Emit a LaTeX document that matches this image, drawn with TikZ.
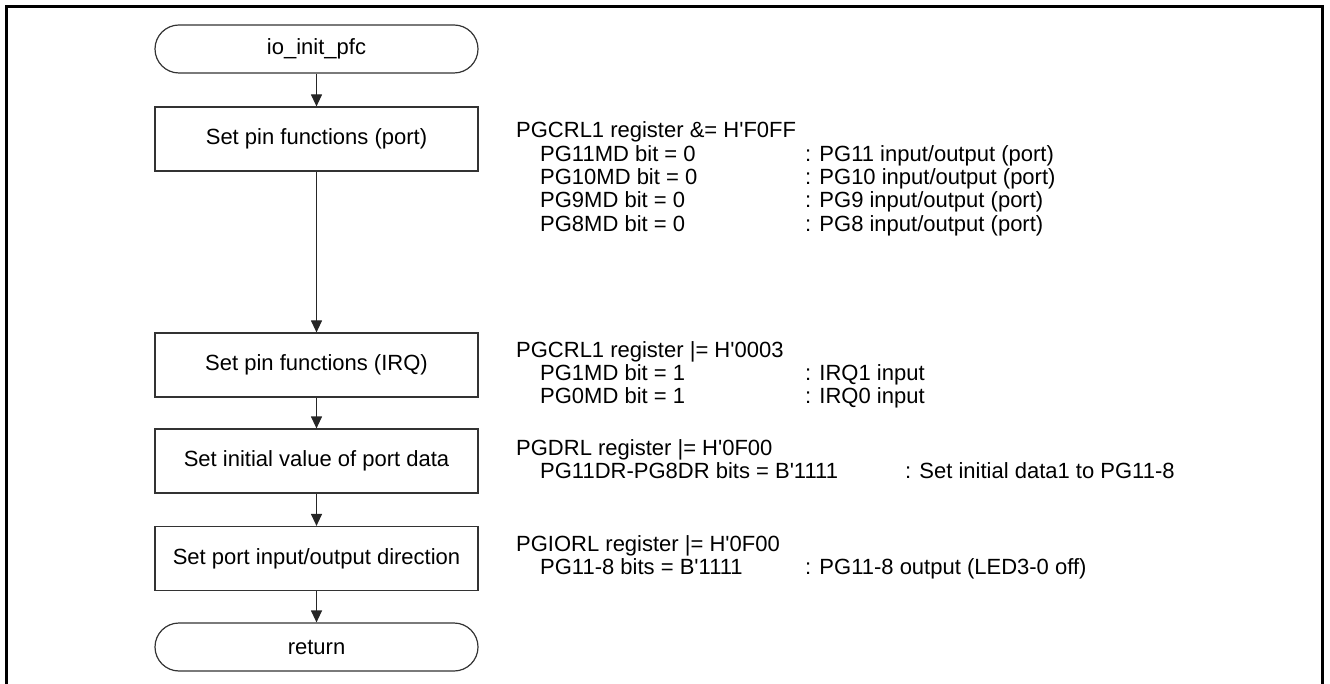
\documentclass[tikz,border=0pt]{standalone}
\usepackage{fontspec}
\setmainfont{Liberation Sans}
\usetikzlibrary{arrows.meta}
\begin{document}
\begin{tikzpicture}[x=1pt,y=-1pt,
  font=\fontsize{22}{24}\selectfont,
  flow/.style={draw=black!80, line width=1.2pt, minimum width=323pt, minimum height=64pt, inner sep=0pt, align=center},
  term/.style={flow, minimum height=48pt, rounded corners=24pt},
  arr/.style={draw=black!85, line width=1.2pt, -{Triangle[width=11pt,length=12pt]}},
  note/.style={anchor=base west, inner sep=0pt},
  frame/.style={line width=3.5pt, line join=miter}]
\useasboundingbox (0,0) rectangle (1330,684);
\coordinate (fa) at (6.5,690);
\coordinate (fb) at (6.5,6.5);
\coordinate (fc) at (1322.5,6.5);
\coordinate (fd) at (1322.5,690);
\draw[frame] (fa) -- (fb) -- (fc) -- (fd);

\node[term] (start) at (316.5,49) {io\_init\_pfc};
\node[flow] (b1) at (316.5,139) {Set pin functions (port)};
\node[flow] (b2) at (316.5,365) {Set pin functions (IRQ)};
\node[flow] (b3) at (316.5,461) {Set initial value of port data};
\node[flow] (b4) at (316.5,558.5) {Set port input/output direction};
\node[term] (ret) at (316.5,647) {return};

\draw[arr] (start) -- (b1);
\draw[arr] (b1) -- (b2);
\draw[arr] (b2) -- (b3);
\draw[arr] (b3) -- (b4);
\draw[arr] (b4) -- (ret);

% group 1
\node[note] (g1a) at (516,138) {PGCRL1 register \&= H\textquotesingle F0FF};
\node[note] (g1b) at (540,162) {PG11MD bit = 0};
\node[note] (g1bc) at (805,162) {: PG11 input/output (port)};
\node[note] (g1c) at (540,185) {PG10MD bit = 0};
\node[note] (g1cc) at (805,185) {: PG10 input/output (port)};
\node[note] (g1d) at (540,208) {PG9MD bit = 0};
\node[note] (g1dc) at (805,208) {: PG9 input/output (port)};
\node[note] (g1e) at (540,232) {PG8MD bit = 0};
\node[note] (g1ec) at (805,232) {: PG8 input/output (port)};

% group 2
\node[note] (g2a) at (516,358) {PGCRL1 register |= H\textquotesingle 0003};
\node[note] (g2b) at (540,381) {PG1MD bit = 1};
\node[note] (g2bc) at (805,381) {: IRQ1 input};
\node[note] (g2c) at (540,403) {PG0MD bit = 1};
\node[note] (g2cc) at (805,403) {: IRQ0 input};

% group 3
\node[note] (g3a) at (516,455) {PGDRL register |= H\textquotesingle 0F00};
\node[note] (g3b) at (540,478) {PG11DR-PG8DR bits = B\textquotesingle 1111};
\node[note] (g3bc) at (905,478) {: Set initial data1 to PG11-8};

% group 4
\node[note] (g4a) at (516,551) {PGIORL register |= H\textquotesingle 0F00};
\node[note] (g4b) at (540,574) {PG11-8 bits = B\textquotesingle 1111};
\node[note] (g4bc) at (805,574) {: PG11-8 output (LED3-0 off)};
\end{tikzpicture}
\end{document}
